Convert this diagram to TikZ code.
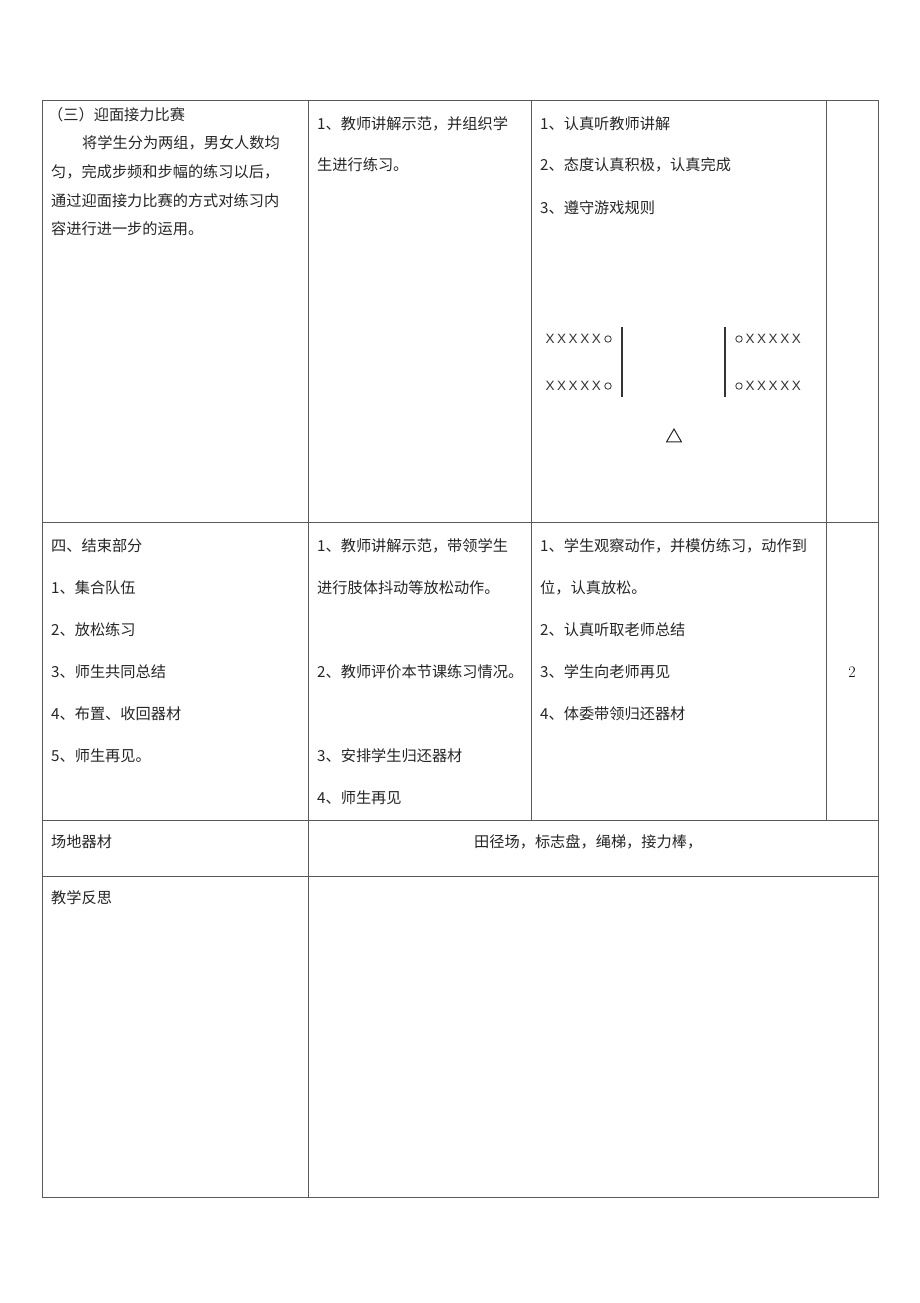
\documentclass[tikz,border=0pt]{standalone}
\usepackage{fontspec}
\newfontfamily\cjk{Noto Sans CJK SC}
\newfontfamily\lsans{Liberation Sans}
\usetikzlibrary{shapes.geometric}
\definecolor{rule}{HTML}{5A5A5A}
\tikzset{
  txt/.style={anchor=west, inner sep=0pt, font=\cjk\fontsize{15.2}{18}\selectfont, text=black!85},
  xmark/.style={inner sep=0pt, font=\lsans\fontsize{13.5}{14}\selectfont, text=black!80},
  omark/.style={circle, draw=black!80, line width=0.8pt, minimum size=6.5pt, inner sep=0pt},
  bar/.style={line width=1.6pt, draw=black!80},
  grid/.style={line width=1pt, draw=rule}
}
\begin{document}
\begin{tikzpicture}[x=1pt,y=-1pt]
\useasboundingbox[fill=white] (0,0) rectangle (920,1303);
% table
\draw[grid] (42,101) rectangle (878,1197);
\draw[grid] (42,522) -- (878,522);
\draw[grid] (42,820) -- (878,820);
\draw[grid] (42,876) -- (878,876);
\draw[grid] (308,101) -- (308,1197);
\draw[grid] (531,101) -- (531,820);
\draw[grid] (826,101) -- (826,820);

% row 1 col 1
\node[txt] (a1) at (48,115) {（三）迎面接力比赛};
\node[txt] (a2) at (82,143) {将学生分为两组，男女人数均};
\node[txt] (a3) at (51,172) {匀，完成步频和步幅的练习以后，};
\node[txt] (a4) at (51,201) {通过迎面接力比赛的方式对练习内};
\node[txt] (a5) at (51,229) {容进行进一步的运用。};
% row 1 col 2
\node[txt] (b1) at (317,124) {1、教师讲解示范，并组织学};
\node[txt] (b2) at (317,165) {生进行练习。};
% row 1 col 3
\node[txt] (c1) at (540,124) {1、认真听教师讲解};
\node[txt] (c2) at (540,165) {2、态度认真积极，认真完成};
\node[txt] (c3) at (540,208) {3、遵守游戏规则};

% formation diagram
\foreach \r/\yy in {1/339,2/386}{
  \foreach \i in {0,...,4}{
    \node[xmark] (lx\r\i) at ({550+\i*11.6},\yy) {X};
    \node[xmark] (rx\r\i) at ({750+\i*11.6},\yy) {X};
  }
  \node[omark] (lo\r) at (608,\yy) {};
  \node[omark] (ro\r) at (739,\yy) {};
}
\coordinate (lt) at (622,327);
\coordinate (lb) at (622,397);
\coordinate (rt) at (725,327);
\coordinate (rb) at (725,397);
\draw[bar] (lt) -- (lb);
\draw[bar] (rt) -- (rb);
\node[regular polygon, regular polygon sides=3, draw=black!85, line width=1pt, minimum size=17pt, inner sep=0pt] (tri) at (674,437.5) {};

% row 2 col 1
\node[txt] (d1) at (51,546) {四、结束部分};
\node[txt] (d2) at (51,588) {1、集合队伍};
\node[txt] (d3) at (51,630) {2、放松练习};
\node[txt] (d4) at (51,672) {3、师生共同总结};
\node[txt] (d5) at (51,714) {4、布置、收回器材};
\node[txt] (d6) at (51,756) {5、师生再见。};
% row 2 col 2
\node[txt] (e1) at (317,546) {1、教师讲解示范，带领学生};
\node[txt] (e2) at (317,588) {进行肢体抖动等放松动作。};
\node[txt] (e3) at (317,672) {2、教师评价本节课练习情况。};
\node[txt] (e4) at (317,756) {3、安排学生归还器材};
\node[txt] (e5) at (317,798) {4、师生再见};
% row 2 col 3
\node[txt] (f1) at (540,546) {1、学生观察动作，并模仿练习，动作到};
\node[txt] (f2) at (540,588) {位，认真放松。};
\node[txt] (f3) at (540,630) {2、认真听取老师总结};
\node[txt] (f4) at (540,672) {3、学生向老师再见};
\node[txt] (f5) at (540,714) {4、体委带领归还器材};
% row 2 col 4
\node[inner sep=0pt, font=\fontsize{16}{18}\selectfont, text=black] (g1) at (852,672) {2};

% row 3
\node[txt] (h1) at (51,842) {场地器材};
\node[txt] (h2) at (474,842) {田径场，标志盘，绳梯，接力棒，};
% row 4
\node[txt] (k1) at (51,898) {教学反思};
\end{tikzpicture}
\end{document}
